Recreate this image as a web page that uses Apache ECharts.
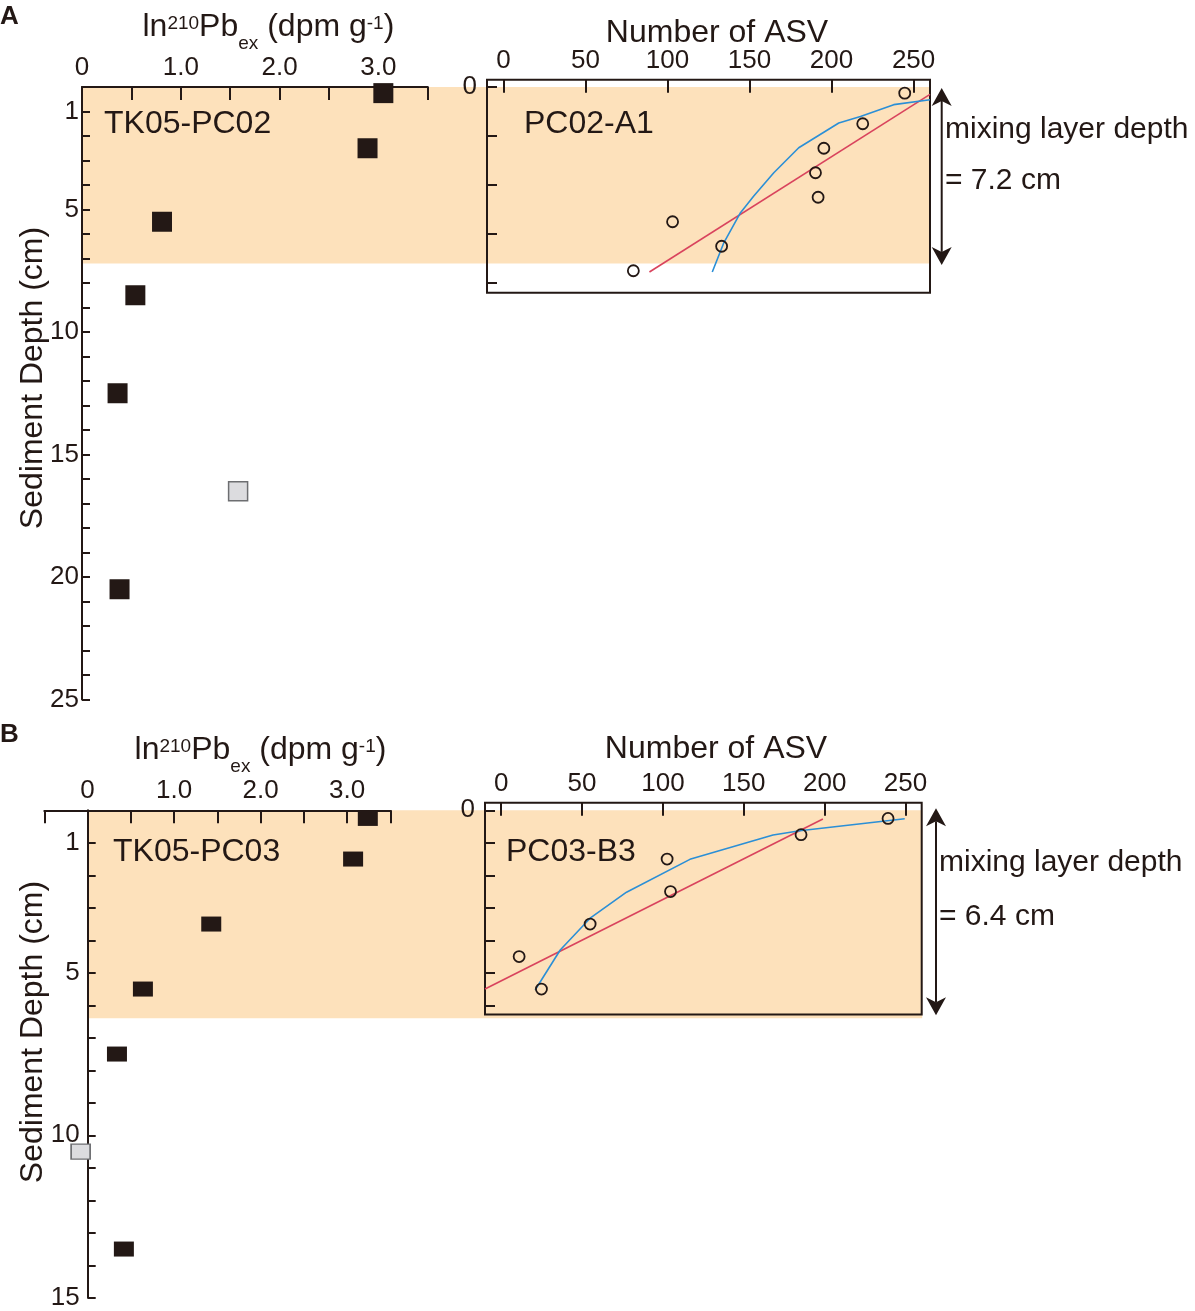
<!DOCTYPE html>
<html><head><meta charset="utf-8">
<script src="https://cdn.jsdelivr.net/npm/echarts@6/dist/echarts.min.js"></script>
<style>html,body{margin:0;padding:0;background:#fff}#c{width:1195px;height:1311px}</style>
</head><body><div id="c"></div><script>
// ---------- Panel A : TK05-PC02 ----------
const pc02Depth = [0.25, 2.5, 5.5, 8.5, 12.5, 20.5];
const pc02Pb = [3.05, 2.89, 0.81, 0.54, 0.36, 0.38];
const pc02OutDepth = [16.5];
const pc02OutPb = [1.58];
const a1Depth = [0.25, 1.5, 2.5, 3.5, 4.5, 5.5, 6.5, 7.5];
const a1Asv = [244.6, 219, 195.3, 190.2, 191.8, 103.1, 133, 79.2];
const a1RegAsv = [89, 260];
const a1RegDepth = [7.55, 0.3];
const a1FitAsv = [127.3, 134.4, 144.5, 152.6, 164.8, 180, 204.4, 217.6, 237.9, 260];
const a1FitDepth = [7.55, 6.35, 5.13, 4.45, 3.5, 2.48, 1.47, 1.2, 0.72, 0.52];
const mixingA = 7.2;

// ---------- Panel B : TK05-PC03 ----------
const pc03Depth = [0.25, 1.5, 3.5, 5.5, 7.5, 13.5];
const pc03Pb = [3.24, 3.07, 1.43, 0.64, 0.34, 0.42];
const pc03OutDepth = [10.5];
const pc03OutPb = [-0.08];
const b3Depth = [0.25, 0.75, 1.5, 2.5, 3.5, 4.5, 5.5];
const b3Asv = [239.2, 185.4, 102.6, 104.7, 55.0, 11.1, 24.9];
const b3RegAsv = [-10, 198.9];
const b3RegDepth = [5.5, 0.27];
const b3FitAsv = [21, 36.5, 55, 77.5, 116.7, 168.1, 184.6, 249.5];
const b3FitDepth = [5.53, 4.3, 3.32, 2.52, 1.51, 0.76, 0.63, 0.26];
const mixingB = 6.4;

// ---------- tick labels ----------
const pbLabels = [0, 1, 2, 3];
const asvTicks = [0, 50, 100, 150, 200, 250];
const depthLabelsA = [1, 5, 10, 15, 20, 25];
const depthLabelsB = [1, 5, 10, 15];
const insetTicksA = [0, 2, 4, 6, 8];
const insetTicksB = [0, 1, 2, 3, 4, 5, 6];
const insetLabels = [0];

const FONT = "'Liberation Sans', Arial, Helvetica, sans-serif";
const INK = '#231815';
const BAND = '#fde1bb';
const RED = '#d9435d';
const BLUE = '#2b8fd6';
const TICKFS = 26;

const zip = (xs, ys) => xs.map((x, i) => [x, ys[i]]);
const pbFmt = v => (Math.abs(v) < 1e-9 ? '0' : (pbLabels.indexOf(v) >= 0 ? v.toFixed(1) : ''));
const lbl = (extra) => Object.assign({ color: INK, fontSize: TICKFS, fontFamily: FONT }, extra);

function mainX(grid, min) {
  return { gridIndex: grid, type: 'value', position: 'top', min: min, max: 3.5, interval: 0.5, z: 1,
    axisLine: { onZero: false, lineStyle: { color: INK, width: 2 } },
    axisTick: { inside: true, length: 13, lineStyle: { color: INK, width: 2 } },
    axisLabel: lbl({ margin: 6, formatter: pbFmt }), splitLine: { show: false } };
}
function mainY(grid, max, labels, margin, show) {
  return { gridIndex: grid, type: 'value', inverse: true, min: 0, max: max, interval: 1, z: 1, show: show,
    axisLine: { onZero: false, lineStyle: { color: INK, width: 2 } },
    axisTick: { inside: true, length: 8, lineStyle: { color: INK, width: 2 } },
    axisLabel: lbl({ margin: margin, formatter: v => (labels.indexOf(v) >= 0 ? String(v) : '') }),
    splitLine: { show: false } };
}
function insetX(grid) {
  return { gridIndex: grid, type: 'value', position: 'top', min: -10, max: 260, z: 1,
    axisLine: { show: false, onZero: false },
    axisTick: { inside: true, length: 13, customValues: asvTicks, lineStyle: { color: INK, width: 2 } },
    axisLabel: lbl({ margin: 6, customValues: asvTicks }), splitLine: { show: false } };
}
function insetY(grid, min, max, ticks) {
  return { gridIndex: grid, type: 'value', inverse: true, min: min, max: max, z: 1,
    axisLine: { show: false, onZero: false },
    axisTick: { inside: true, length: 10, customValues: ticks, lineStyle: { color: INK, width: 2 } },
    axisLabel: lbl({ margin: 10, customValues: insetLabels, padding: [0, 0, 10, 0] }), splitLine: { show: false } };
}
const hiddenX = g => ({ gridIndex: g, type: 'value', min: 0, max: 1, show: false });
const hiddenY = (g, max) => ({ gridIndex: g, type: 'value', min: 0, max: max, inverse: true, show: false });

function bandSeries(ax, depth) {
  return { type: 'custom', xAxisIndex: ax, yAxisIndex: ax, z: 0, silent: true, data: [[1, depth]],
    renderItem: (params, api) => {
      const p0 = api.coord([0, 0]);
      const p1 = api.coord([api.value(0), api.value(1)]);
      return { type: 'rect', shape: { x: p0[0], y: p0[1], width: p1[0] - p0[0], height: p1[1] - p0[1] }, style: { fill: BAND } };
    } };
}
const squares = (ax, data, h) => ({ type: 'scatter', xAxisIndex: ax, yAxisIndex: ax, z: 3, symbol: 'rect', symbolSize: [20, h],
  clip: false, itemStyle: { color: INK, opacity: 1 }, data: data });
const graySq = (ax, data, h) => ({ type: 'scatter', xAxisIndex: ax, yAxisIndex: ax, z: 3, symbol: 'rect', symbolSize: [19, h],
  clip: false, itemStyle: { color: '#dcdcdf', borderColor: '#6d6e71', borderWidth: 1.5, opacity: 1 }, data: data });
const circles = (ax, data) => ({ type: 'scatter', xAxisIndex: ax, yAxisIndex: ax, z: 4, symbol: 'circle', symbolSize: 11,
  itemStyle: { color: 'rgba(0,0,0,0)', borderColor: INK, borderWidth: 1.8, opacity: 1 }, data: data });
const line = (ax, data, color) => ({ type: 'line', xAxisIndex: ax, yAxisIndex: ax, z: 3, symbol: 'none', showSymbol: false,
  lineStyle: { color: color, width: 1.6 }, data: data, animation: false });

const option = {
  animation: false,
  backgroundColor: '#fff',
  textStyle: { fontFamily: FONT },
  grid: [
    { left: 82, top: 87, width: 345.8, height: 612.5 },
    { left: 487, top: 79.65, width: 443, height: 213.15, show: true, borderColor: INK, borderWidth: 2, backgroundColor: 'rgba(0,0,0,0)', z: 1 },
    { left: 82, top: 87, width: 848, height: 612.5 },
    { left: 44.3, top: 810.3, width: 346, height: 487.5 },
    { left: 485, top: 802.8, width: 436.7, height: 211.6, show: true, borderColor: INK, borderWidth: 2, backgroundColor: 'rgba(0,0,0,0)', z: 1 },
    { left: 87.7, top: 810.3, width: 834.5, height: 487.5 }
  ],
  xAxis: [mainX(0, 0), insetX(1), hiddenX(2), mainX(3, -0.5), insetX(4), hiddenX(5)],
  yAxis: [mainY(0, 25, depthLabelsA, 3, true), insetY(1, -0.3, 8.4, insetTicksA), hiddenY(2, 25),
          mainY(3, 15, depthLabelsB, 8, false), insetY(4, -0.23, 6.28, insetTicksB), mainY(5, 15, depthLabelsB, 8, true)],
  series: [
    bandSeries(2, mixingA),
    squares(0, zip(pc02Pb, pc02Depth), 20),
    graySq(0, zip(pc02OutPb, pc02OutDepth), 19),
    line(1, zip(a1RegAsv, a1RegDepth), RED),
    line(1, zip(a1FitAsv, a1FitDepth), BLUE),
    circles(1, zip(a1Asv, a1Depth)),
    bandSeries(5, mixingB),
    squares(3, zip(pc03Pb, pc03Depth), 15),
    graySq(3, zip(pc03OutPb, pc03OutDepth), 15),
    line(4, zip(b3RegAsv, b3RegDepth), RED),
    line(4, zip(b3FitAsv, b3FitDepth), BLUE),
    circles(4, zip(b3Asv, b3Depth))
  ]
};

const chart = echarts.init(document.getElementById('c'), null, { renderer: 'canvas' });
chart.setOption(option);

// ---------- annotations ----------
const mctx = document.createElement('canvas').getContext('2d');
function tw(text, size) { mctx.font = size + 'px ' + FONT; return mctx.measureText(text).width; }
function txt(x, y, text, size, extra) {
  return Object.assign({ type: 'text', x: x, y: y, z: 20,
    style: { text: text, fontSize: size, fontFamily: FONT, fill: INK, align: 'left', verticalAlign: 'middle' } }, extra || {});
}
function ctxt(x, y, text, size, rot) {
  return { type: 'text', x: x, y: y, z: 20, rotation: rot || 0,
    style: { text: text, fontSize: size, fontFamily: FONT, fill: INK, align: 'center', verticalAlign: 'middle' } };
}
// ln 210Pb ex (dpm g-1) : pieces with [text, kind]
const titleParts = [['ln', 'm'], ['210', 's'], ['Pb', 'm'], ['ex', 'b'], [' (dpm g', 'm'], ['-1', 's'], [')', 'm']];
const partSize = { m: 32, s: 19, b: 19 };
const partDy = { m: 0, s: -4, b: 16 };
function pbTitle(cx, cy) {
  const total = titleParts.reduce((s, p) => s + tw(p[0], partSize[p[1]]), 0);
  let x = cx - total / 2;
  return titleParts.map(p => {
    const el = txt(x, cy + partDy[p[1]], p[0], partSize[p[1]]);
    x += tw(p[0], partSize[p[1]]);
    return el;
  });
}
function arrow(x, yTop, yBot) {
  const w = 10, h = 18, n = 5;
  return { type: 'group', z: 20, children: [
    { type: 'line', shape: { x1: x, y1: yTop + h - n, x2: x, y2: yBot - h + n }, style: { stroke: INK, lineWidth: 2 } },
    { type: 'polygon', shape: { points: [[x, yTop], [x + w, yTop + h], [x, yTop + h - n], [x - w, yTop + h]] }, style: { fill: INK } },
    { type: 'polygon', shape: { points: [[x, yBot], [x + w, yBot - h], [x, yBot - h + n], [x - w, yBot - h]] }, style: { fill: INK } }
  ] };
}
const yA0 = chart.convertToPixel({ gridIndex: 2 }, [0, 0])[1];
const yA1 = chart.convertToPixel({ gridIndex: 2 }, [0, mixingA])[1];
const yB0 = chart.convertToPixel({ gridIndex: 5 }, [0, 0])[1];
const yB1 = chart.convertToPixel({ gridIndex: 5 }, [0, mixingB])[1];

const bold = (x, y, t) => ({ type: 'text', x: x, y: y, z: 20,
  style: { text: t, fontSize: 26, fontWeight: 'bold', fontFamily: FONT, fill: INK, align: 'left', verticalAlign: 'middle' } });

const graphics = [].concat(
  [bold(0, 17, 'A'), bold(0, 735, 'B')],
  pbTitle(268.4, 27.5),
  pbTitle(260.5, 750.5),
  [
    ctxt(717, 33, 'Number of ASV', 32),
    ctxt(716, 749, 'Number of ASV', 32),
    ctxt(33, 378, 'Sediment Depth (cm)', 32, Math.PI / 2),
    ctxt(33, 1032, 'Sediment Depth (cm)', 32, Math.PI / 2),
    txt(104, 124, 'TK05-PC02', 32),
    txt(524, 124, 'PC02-A1', 32),
    txt(113, 852, 'TK05-PC03', 32),
    txt(506, 852, 'PC03-B3', 32),
    arrow(941.7, yA0 + 1, yA1 + 1.5),
    arrow(936, yB0 - 2, yB1 - 3),
    txt(945, 130, 'mixing layer depth', 30),
    txt(945, 181, '= ' + mixingA.toFixed(1) + ' cm', 30),
    txt(939, 863, 'mixing layer depth', 30),
    txt(939, 917, '= ' + mixingB.toFixed(1) + ' cm', 30)
  ]
);
chart.setOption({ graphic: graphics });
</script></body></html>
